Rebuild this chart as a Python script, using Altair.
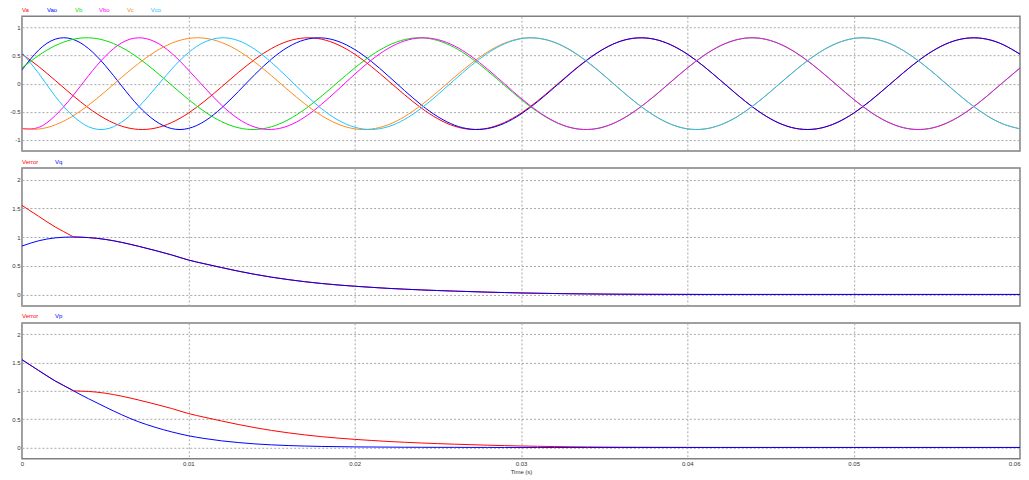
import altair as alt
import pandas as pd

# ---------------- data ----------------
time_s = [0.000, 0.001, 0.002, 0.003, 0.004, 0.005, 0.006, 0.007, 0.008, 0.009,
          0.010, 0.011, 0.012, 0.013, 0.014, 0.015, 0.016, 0.017, 0.018, 0.019,
          0.020, 0.021, 0.022, 0.023, 0.024, 0.025, 0.026, 0.027, 0.028, 0.029,
          0.030, 0.031, 0.032, 0.033, 0.034, 0.035, 0.036, 0.037, 0.038, 0.039,
          0.040, 0.041, 0.042, 0.043, 0.044, 0.045, 0.046, 0.047, 0.048, 0.049,
          0.050, 0.051, 0.052, 0.053, 0.054, 0.055, 0.056, 0.057, 0.058, 0.059,
          0.060]

Va = [0.525, 0.306, 0.057, -0.197, -0.432, -0.625, -0.757, -0.814, -0.792, -0.692,
      -0.525, -0.306, -0.057, 0.197, 0.432, 0.625, 0.757, 0.814, 0.792, 0.692,
      0.525, 0.306, 0.057, -0.197, -0.432, -0.625, -0.757, -0.814, -0.792, -0.692,
      -0.525, -0.306, -0.057, 0.197, 0.432, 0.625, 0.757, 0.814, 0.792, 0.692,
      0.525, 0.306, 0.057, -0.197, -0.432, -0.625, -0.757, -0.814, -0.792, -0.692,
      -0.525, -0.306, -0.057, 0.197, 0.432, 0.625, 0.757, 0.814, 0.792, 0.692,
      0.525]

Vao = [0.245, 0.597, 0.792, 0.795, 0.625, 0.325, -0.043, -0.396, -0.660, -0.800,
       -0.797, -0.664, -0.432, -0.142, 0.163, 0.438, 0.652, 0.781, 0.815, 0.754,
       0.608, 0.397, 0.143, -0.123, -0.377, -0.588, -0.738, -0.810, -0.799, -0.706,
       -0.541, -0.321, -0.070, 0.188, 0.426, 0.622, 0.757, 0.814, 0.792, 0.692,
       0.525, 0.306, 0.057, -0.197, -0.432, -0.625, -0.757, -0.814, -0.792, -0.692,
       -0.525, -0.306, -0.057, 0.197, 0.432, 0.625, 0.757, 0.814, 0.792, 0.692,
       0.525]

Vb = [0.279, 0.502, 0.676, 0.784, 0.816, 0.767, 0.643, 0.456, 0.225, -0.028,
      -0.279, -0.502, -0.676, -0.784, -0.816, -0.767, -0.643, -0.456, -0.225, 0.028,
      0.279, 0.502, 0.676, 0.784, 0.816, 0.767, 0.643, 0.456, 0.225, -0.028,
      -0.279, -0.502, -0.676, -0.784, -0.816, -0.767, -0.643, -0.456, -0.225, 0.028,
      0.279, 0.502, 0.676, 0.784, 0.816, 0.767, 0.643, 0.456, 0.225, -0.028,
      -0.279, -0.502, -0.676, -0.784, -0.816, -0.767, -0.643, -0.456, -0.225, 0.028,
      0.279]

Vbo = [-0.797, -0.780, -0.567, -0.239, 0.142, 0.485, 0.727, 0.816, 0.745, 0.541,
       0.245, -0.078, -0.383, -0.625, -0.774, -0.815, -0.751, -0.595, -0.370, -0.106,
       0.167, 0.419, 0.624, 0.760, 0.815, 0.784, 0.671, 0.489, 0.256, -0.001,
       -0.259, -0.489, -0.669, -0.782, -0.816, -0.769, -0.643, -0.456, -0.225, 0.028,
       0.279, 0.502, 0.676, 0.784, 0.816, 0.767, 0.643, 0.456, 0.225, -0.028,
       -0.279, -0.502, -0.676, -0.784, -0.816, -0.767, -0.643, -0.456, -0.225, 0.028,
       0.279]

Vc = [-0.804, -0.808, -0.733, -0.587, -0.383, -0.142, 0.114, 0.358, 0.567, 0.720,
      0.804, 0.808, 0.733, 0.587, 0.383, 0.142, -0.114, -0.358, -0.567, -0.720,
      -0.804, -0.808, -0.733, -0.587, -0.383, -0.142, 0.114, 0.358, 0.567, 0.720,
      0.804, 0.808, 0.733, 0.587, 0.383, 0.142, -0.114, -0.358, -0.567, -0.720,
      -0.804, -0.808, -0.733, -0.587, -0.383, -0.142, 0.114, 0.358, 0.567, 0.720,
      0.804, 0.808, 0.733, 0.587, 0.383, 0.142, -0.114, -0.358, -0.567, -0.720,
      -0.804]

Vco = [0.551, 0.184, -0.225, -0.557, -0.767, -0.811, -0.684, -0.420, -0.085, 0.259,
       0.551, 0.743, 0.816, 0.767, 0.611, 0.377, 0.099, -0.186, -0.444, -0.647,
       -0.775, -0.816, -0.767, -0.637, -0.438, -0.196, 0.067, 0.321, 0.543, 0.707,
       0.800, 0.810, 0.739, 0.594, 0.389, 0.147, -0.114, -0.358, -0.567, -0.720,
       -0.804, -0.808, -0.733, -0.587, -0.383, -0.142, 0.114, 0.358, 0.567, 0.720,
       0.804, 0.808, 0.733, 0.587, 0.383, 0.142, -0.114, -0.358, -0.567, -0.720,
       -0.804]

ctrl_time_s = [0.000, 0.001, 0.002, 0.003, 0.0031, 0.004, 0.005, 0.006, 0.007, 0.008,
               0.009, 0.010, 0.011, 0.012, 0.013, 0.014, 0.015, 0.016, 0.017, 0.018,
               0.019, 0.020, 0.021, 0.022, 0.023, 0.024, 0.025, 0.026, 0.027, 0.028,
               0.029, 0.030, 0.031, 0.032, 0.033, 0.034, 0.035, 0.036, 0.037, 0.038,
               0.039, 0.040, 0.041, 0.042, 0.043, 0.044, 0.045, 0.046, 0.047, 0.048,
               0.049, 0.050, 0.051, 0.052, 0.053, 0.054, 0.055, 0.056, 0.057, 0.058,
               0.059, 0.060]

Vq = [0.843, 0.934, 0.985, 1.000, 1.000, 0.990, 0.959, 0.906, 0.839, 0.766,
      0.688, 0.600, 0.532, 0.468, 0.406, 0.350, 0.301, 0.259, 0.222, 0.191,
      0.165, 0.143, 0.124, 0.106, 0.092, 0.079, 0.068, 0.058, 0.049, 0.040,
      0.033, 0.026, 0.021, 0.016, 0.012, 0.009, 0.006, 0.004, 0.003, 0.002,
      0.0015, 0.001, 0.0, 0.0, 0.0, 0.0, 0.0, 0.0, 0.0, 0.0,
      0.0, 0.0, 0.0, 0.0, 0.0, 0.0, 0.0, 0.0, 0.0, 0.0,
      0.0, 0.0]

Vp = [1.550, 1.360, 1.174, 1.017, 1.000, 0.861, 0.716, 0.577, 0.455, 0.357,
      0.275, 0.207, 0.157, 0.117, 0.087, 0.063, 0.046, 0.034, 0.025, 0.018,
      0.014, 0.010, 0.008, 0.006, 0.004, 0.003, 0.002, 0.002, 0.001, 0.001,
      0.0, 0.0, 0.0, 0.0, 0.0, 0.0, 0.0, 0.0, 0.0, 0.0,
      0.0, 0.0, 0.0, 0.0, 0.0, 0.0, 0.0, 0.0, 0.0, 0.0,
      0.0, 0.0, 0.0, 0.0, 0.0, 0.0, 0.0, 0.0, 0.0, 0.0,
      0.0, 0.0]

Verror = [1.550, 1.360, 1.174, 1.017, 1.000, 0.990, 0.959, 0.906, 0.839, 0.766,
          0.688, 0.600, 0.532, 0.468, 0.406, 0.350, 0.301, 0.259, 0.222, 0.191,
          0.165, 0.143, 0.124, 0.106, 0.092, 0.079, 0.068, 0.058, 0.049, 0.040,
          0.033, 0.026, 0.021, 0.016, 0.012, 0.009, 0.006, 0.004, 0.003, 0.002,
          0.0015, 0.001, 0.0, 0.0, 0.0, 0.0, 0.0, 0.0, 0.0, 0.0,
          0.0, 0.0, 0.0, 0.0, 0.0, 0.0, 0.0, 0.0, 0.0, 0.0,
          0.0, 0.0]

x_ticks = [0, 0.01, 0.02, 0.03, 0.04, 0.05, 0.06]
y_ticks_top = [-1, -0.5, 0, 0.5, 1]
y_ticks_ctrl = [0, 0.5, 1, 1.5, 2]

colors = {
    "Va": "#ff0000", "Vao": "#0000ff", "Vb": "#00e000", "Vbo": "#ff00ff",
    "Vc": "#ff8a1c", "Vco": "#1cc4ff", "Verror": "#ff0000", "Vq": "#0000ff",
    "Vp": "#0000ff",
}

FONT = "Liberation Sans"
W = 999


def x_enc(show_labels):
    if show_labels:
        ax = alt.Axis(values=x_ticks, labelExpr="'' + datum.value", title="Time (s)",
                      labelFlush=False,
                      labelAlign={"condition": {"test": "datum.value >= 0.059", "value": "right"},
                                  "value": "center"})
    else:
        ax = alt.Axis(values=x_ticks, labels=False, title=None)
    return alt.X("t:Q", scale=alt.Scale(domain=[0, 0.06], nice=False, zero=False), axis=ax)


def y_enc(domain, ticks):
    return alt.Y("v:Q", scale=alt.Scale(domain=domain, nice=False, zero=False),
                 axis=alt.Axis(values=ticks, labelExpr="'' + datum.value", title=None))


def series_line(times, values, name, domain, ticks, show_x, interp):
    df = pd.DataFrame({"t": times, "v": values})
    return alt.Chart(df).mark_line(color=colors[name], strokeWidth=1,
                                   interpolate=interp, clip=True).encode(
        x=x_enc(show_x), y=y_enc(domain, ticks))


def legend_items(items):
    out = []
    for name, dx in items:
        out.append(alt.Chart(pd.DataFrame({"k": [0]})).mark_text(
            align="left", baseline="middle", fontSize=6, font=FONT,
            color=colors[name]).encode(x=alt.value(dx), y=alt.value(-6.5),
                                       text=alt.value(name)))
    return out


top_series = [("Va", Va), ("Vao", Vao), ("Vb", Vb), ("Vbo", Vbo), ("Vc", Vc), ("Vco", Vco)]
p1 = alt.layer(
    *[series_line(time_s, vals, nm, [-1.2, 1.2], y_ticks_top, False, "natural")
      for nm, vals in top_series],
    *legend_items([("Va", 0), ("Vao", 25), ("Vb", 53), ("Vbo", 77), ("Vc", 105), ("Vco", 129)])
).properties(width=W, height=135)

p2 = alt.layer(
    series_line(ctrl_time_s, Verror, "Verror", [-0.2, 2.2], y_ticks_ctrl, False, "monotone"),
    series_line(ctrl_time_s, Vq, "Vq", [-0.2, 2.2], y_ticks_ctrl, False, "monotone"),
    *legend_items([("Verror", 0), ("Vq", 33)])
).properties(width=W, height=138)

p3 = alt.layer(
    series_line(ctrl_time_s, Verror, "Verror", [-0.2, 2.2], y_ticks_ctrl, True, "monotone"),
    series_line(ctrl_time_s, Vp, "Vp", [-0.2, 2.2], y_ticks_ctrl, True, "monotone"),
    *legend_items([("Verror", 0), ("Vp", 33)])
).properties(width=W, height=136)

chart = alt.vconcat(p1, p2, p3, spacing=17, bounds="flush").properties(
    padding={"left": 0, "top": -3, "right": 0, "bottom": 0}
).configure_view(
    stroke="#808080", strokeWidth=1.5
).configure_axis(
    labelFont=FONT, labelFontSize=6, labelColor="#333333",
    titleFont=FONT, titleFontSize=6, titleFontWeight="normal", titleColor="#333333",
    ticks=False, domain=False, grid=True, gridColor="#a8a8a8", gridDash=[2, 2],
    gridWidth=1, labelPadding=2
).configure_axisX(titlePadding=2)

chart.save("out.html", embed_options={"renderer": "svg", "actions": False})
